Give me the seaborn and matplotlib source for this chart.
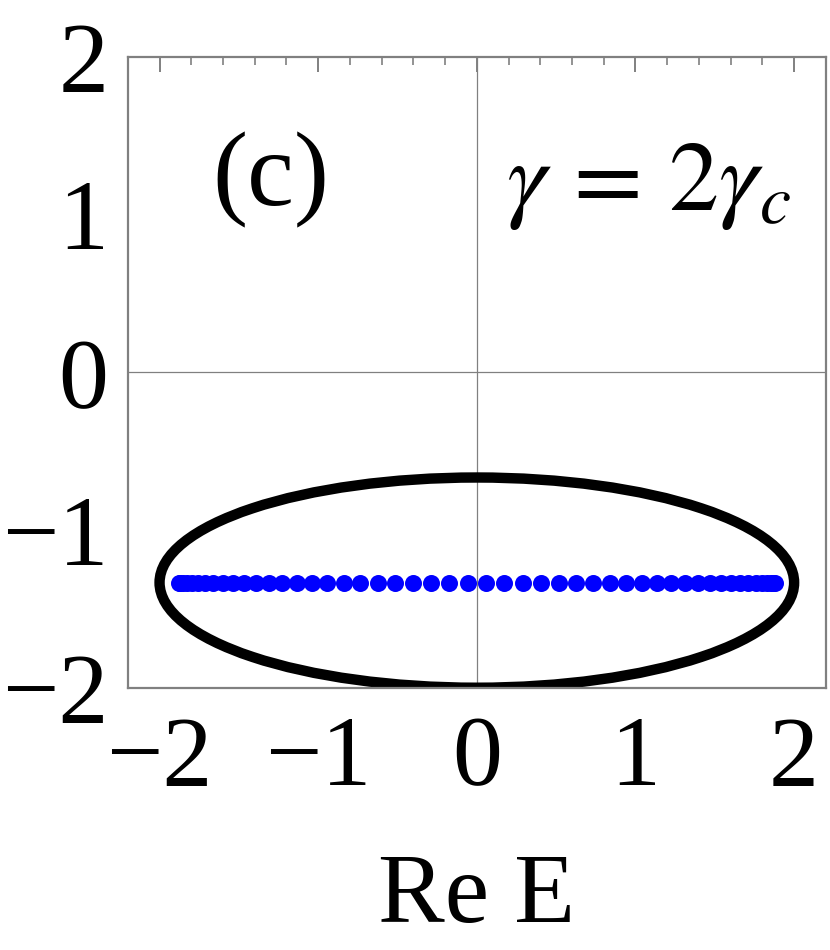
import numpy as np
import matplotlib
matplotlib.use("Agg")
import matplotlib.pyplot as plt
from matplotlib.patches import Ellipse
from matplotlib.ticker import MultipleLocator
import seaborn as sns

# ── Data ────────────────────────────────────────────────────────────────────
# open-boundary eigenvalues: all sit on one horizontal line Im E = -1.333
DOTS_RE = [
    -1.880, -1.870, -1.852, -1.827, -1.795, -1.757, -1.712, -1.660, -1.602, -1.538,
    -1.468, -1.392, -1.312, -1.226, -1.135, -1.041, -0.942, -0.840, -0.734, -0.626,
    -0.516, -0.403, -0.289, -0.174, -0.058,
    0.058, 0.174, 0.289, 0.403, 0.516, 0.626, 0.734, 0.840, 0.942, 1.041,
    1.135, 1.226, 1.312, 1.392, 1.468, 1.538, 1.602, 1.660, 1.712, 1.757,
    1.795, 1.827, 1.852, 1.870, 1.880,
]
DOTS_IM = [-1.333] * len(DOTS_RE)

# periodic-boundary spectrum: ellipse
ELLIPSE_CENTER = (0.0, -1.333)
ELLIPSE_WIDTH = 4.0
ELLIPSE_HEIGHT = 1.333

X_TICKS = [-2, -1, 0, 1, 2]
Y_TICKS = [-2, -1, 0, 1, 2]
X_LIM = (-2.2, 2.2)
Y_LIM = (-2.0, 2.0)

PANEL_LABEL = "(c)"
GAMMA_LABEL = r"$\gamma\, =\, 2\gamma_c$"
X_LABEL = "Re E"

# ── Style ───────────────────────────────────────────────────────────────────
sns.set_style("white")
plt.rcParams["font.family"] = ["Liberation Serif", "DejaVu Serif"]
plt.rcParams["mathtext.fontset"] = "stix"
plt.rcParams["axes.unicode_minus"] = True
plt.rcParams["text.color"] = "black"
plt.rcParams["axes.labelcolor"] = "black"
plt.rcParams["xtick.labelcolor"] = "black"
plt.rcParams["ytick.labelcolor"] = "black"

FRAME = "#808080"
FS = 72

fig = plt.figure(figsize=(8.3, 9.5), dpi=100)
ax = fig.add_axes([0.154, 0.276, 0.841, 0.664])

ax.axhline(0, color=FRAME, lw=0.9, zorder=0)
ax.axvline(0, color=FRAME, lw=0.9, zorder=0)

ax.add_patch(Ellipse(ELLIPSE_CENTER, ELLIPSE_WIDTH, ELLIPSE_HEIGHT,
                     fill=False, edgecolor="black", lw=7.5, zorder=2))

sns.scatterplot(x=DOTS_RE, y=DOTS_IM, color="#0000ff", s=150,
                linewidth=0, ax=ax, zorder=3, legend=False)

ax.set_xlim(*X_LIM)
ax.set_ylim(*Y_LIM)
ax.set_xticks(X_TICKS)
ax.set_yticks(Y_TICKS)
ax.xaxis.set_minor_locator(MultipleLocator(0.2))

ax.tick_params(axis="both", which="both", direction="in", color=FRAME,
               top=True, right=False, labelsize=FS)
ax.tick_params(axis="x", which="major", length=11, width=1.4, pad=20)
ax.tick_params(axis="x", which="minor", length=6, width=1.2)
ax.tick_params(axis="y", which="major", length=7, width=1.4, pad=14)

for s in ax.spines.values():
    s.set_color(FRAME)
    s.set_linewidth(1.6)

ax.set_xlabel(X_LABEL, fontsize=FS, labelpad=34)
ax.set_ylabel("")

ax.text(-1.3, 1.22, PANEL_LABEL, fontsize=76, ha="center", va="center")
ax.text(1.08, 1.18, GAMMA_LABEL, fontsize=FS, ha="center", va="center")

fig.savefig("out.png", dpi=100)
